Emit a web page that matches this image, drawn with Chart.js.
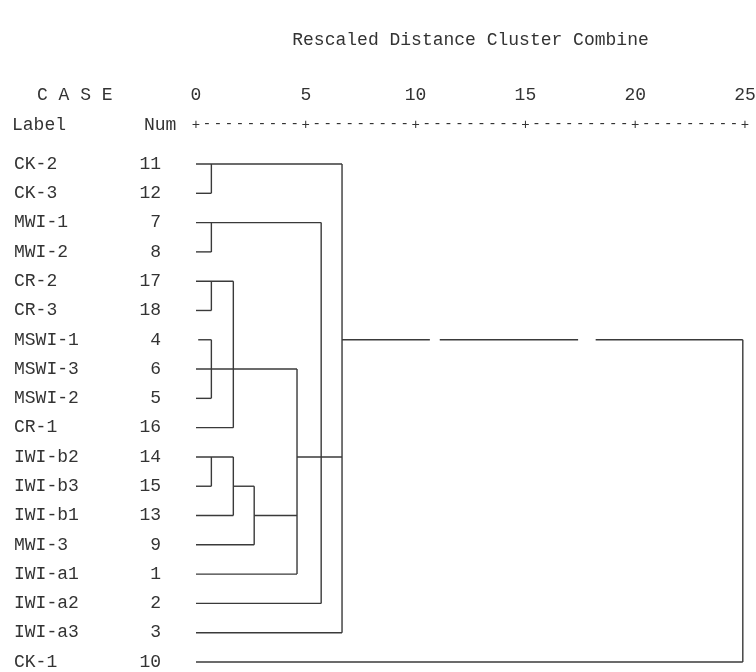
<!DOCTYPE html>
<html>
<head>
<meta charset="utf-8">
<script src="https://cdn.jsdelivr.net/npm/chart.js@4.4.1/dist/chart.umd.min.js"></script>
<style>
  html, body { margin: 0; padding: 0; background: #fff; }
  canvas { display: block; }
</style>
</head>
<body>
<canvas id="dendro" width="756" height="672"></canvas>
<script>
const caseLabels = ['CK-2', 'CK-3', 'MWI-1', 'MWI-2', 'CR-2', 'CR-3', 'MSWI-1', 'MSWI-3', 'MSWI-2',
  'CR-1', 'IWI-b2', 'IWI-b3', 'IWI-b1', 'MWI-3', 'IWI-a1', 'IWI-a2', 'IWI-a3', 'CK-1']
const caseNums = [11, 12, 7, 8, 17, 18, 4, 6, 5, 16, 14, 15, 13, 9, 1, 2, 3, 10]
// rescaled distance where each case's own line starts / stops
const leafStart = [0, 0, 0, 0, 0, 0, 0.1, 0, 0, 0, 0, 0, 0, 0, 0, 0, 0, 0]
const leafEnd = [6.65, 0.7, 5.7, 0.7, 1.7, 0.7, 0.7, 4.6, 0.7, 1.7, 1.7, 0.7, 1.7, 2.65, 4.6, 5.7, 6.65, 24.9]
// vertical joins: [distance, first row, last row]
const joins = [[0.7, 0, 1], [0.7, 2, 3], [0.7, 4, 5], [0.7, 6, 8], [0.7, 10, 11],
  [1.7, 4, 9], [1.7, 10, 12], [2.65, 11, 13], [4.6, 7, 14], [5.7, 2, 15], [6.65, 0, 16], [24.9, 6, 17]]
// other horizontal links: [row, from, to]
const links = [[11, 1.7, 2.65], [12, 2.65, 4.6], [10, 4.6, 6.65],
  [6, 6.65, 10.65], [6, 11.1, 17.4], [6, 18.2, 24.9]]
const axisTicks = [0, 5, 10, 15, 20, 25]

const FONT = 'Liberation Mono'
const INK = '#333'

const segments = []
leafEnd.forEach((end, i) => segments.push([[leafStart[i], i], [end, i]]))
joins.forEach(([x, r1, r2]) => segments.push([[x, r1], [x, r2]]))
links.forEach(([r, a, b]) => segments.push([[a, r], [b, r]]))

const caseText = {
  id: 'caseText',
  afterDraw(chart) {
    const {ctx, scales: {x, y}} = chart
    ctx.save()
    ctx.fillStyle = INK
    ctx.font = '18px ' + FONT
    ctx.textBaseline = 'middle'
    ctx.textAlign = 'left'
    ctx.fillText('C A S E', 37, 95)
    ctx.fillText('Label', 12, 125)
    ctx.fillText('Num', 144, 125)
    caseLabels.forEach((lab, i) => {
      ctx.textAlign = 'left'
      ctx.fillText(lab, 14, y.getPixelForValue(i))
      ctx.textAlign = 'right'
      ctx.fillText(String(caseNums[i]), 161, y.getPixelForValue(i))
    })
    // +---------+ ruler under the tick numbers
    ctx.textAlign = 'center'
    ctx.font = '14px ' + FONT
    for (let k = 0; k < axisTicks.length; k++) {
      const xa = x.getPixelForValue(axisTicks[k])
      ctx.fillText('+', xa, 125)
      if (k < axisTicks.length - 1) {
        const xb = x.getPixelForValue(axisTicks[k + 1])
        for (let j = 1; j < 10; j++) ctx.fillText('-', xa + (xb - xa) * j / 10, 124)
      }
    }
    ctx.restore()
  }
}

new Chart(document.getElementById('dendro'), {
  type: 'scatter',
  data: {
    datasets: segments.map((s) => ({
      data: s.map(([px, py]) => ({x: px, y: py})),
      showLine: true,
      borderColor: '#3a3a3a',
      borderWidth: 1.4,
      pointRadius: 0,
      clip: false,
    })),
  },
  options: {
    responsive: false,
    animation: false,
    events: [],
    layout: {padding: {left: 196, right: 11, top: 0, bottom: 10}},
    plugins: {legend: {display: false}, tooltip: {enabled: false}},
    scales: {
      x: {
        type: 'linear',
        position: 'top',
        min: 0,
        max: 25,
        grid: {display: false},
        border: {display: false},
        ticks: {stepSize: 5, padding: 50, color: INK, font: {family: FONT, size: 18}, maxRotation: 0},
        title: {
          display: true,
          text: 'Rescaled Distance Cluster Combine',
          color: INK,
          font: {family: FONT, size: 18},
          padding: {top: 29, bottom: 0},
        },
        afterFit(scale) {
          scale.height = 164
          scale.paddingRight = 0
          scale.paddingLeft = 0
        },
      },
      y: {type: 'linear', reverse: true, min: 0, max: 17, display: false},
    },
  },
  plugins: [caseText],
})
</script>
</body>
</html>
